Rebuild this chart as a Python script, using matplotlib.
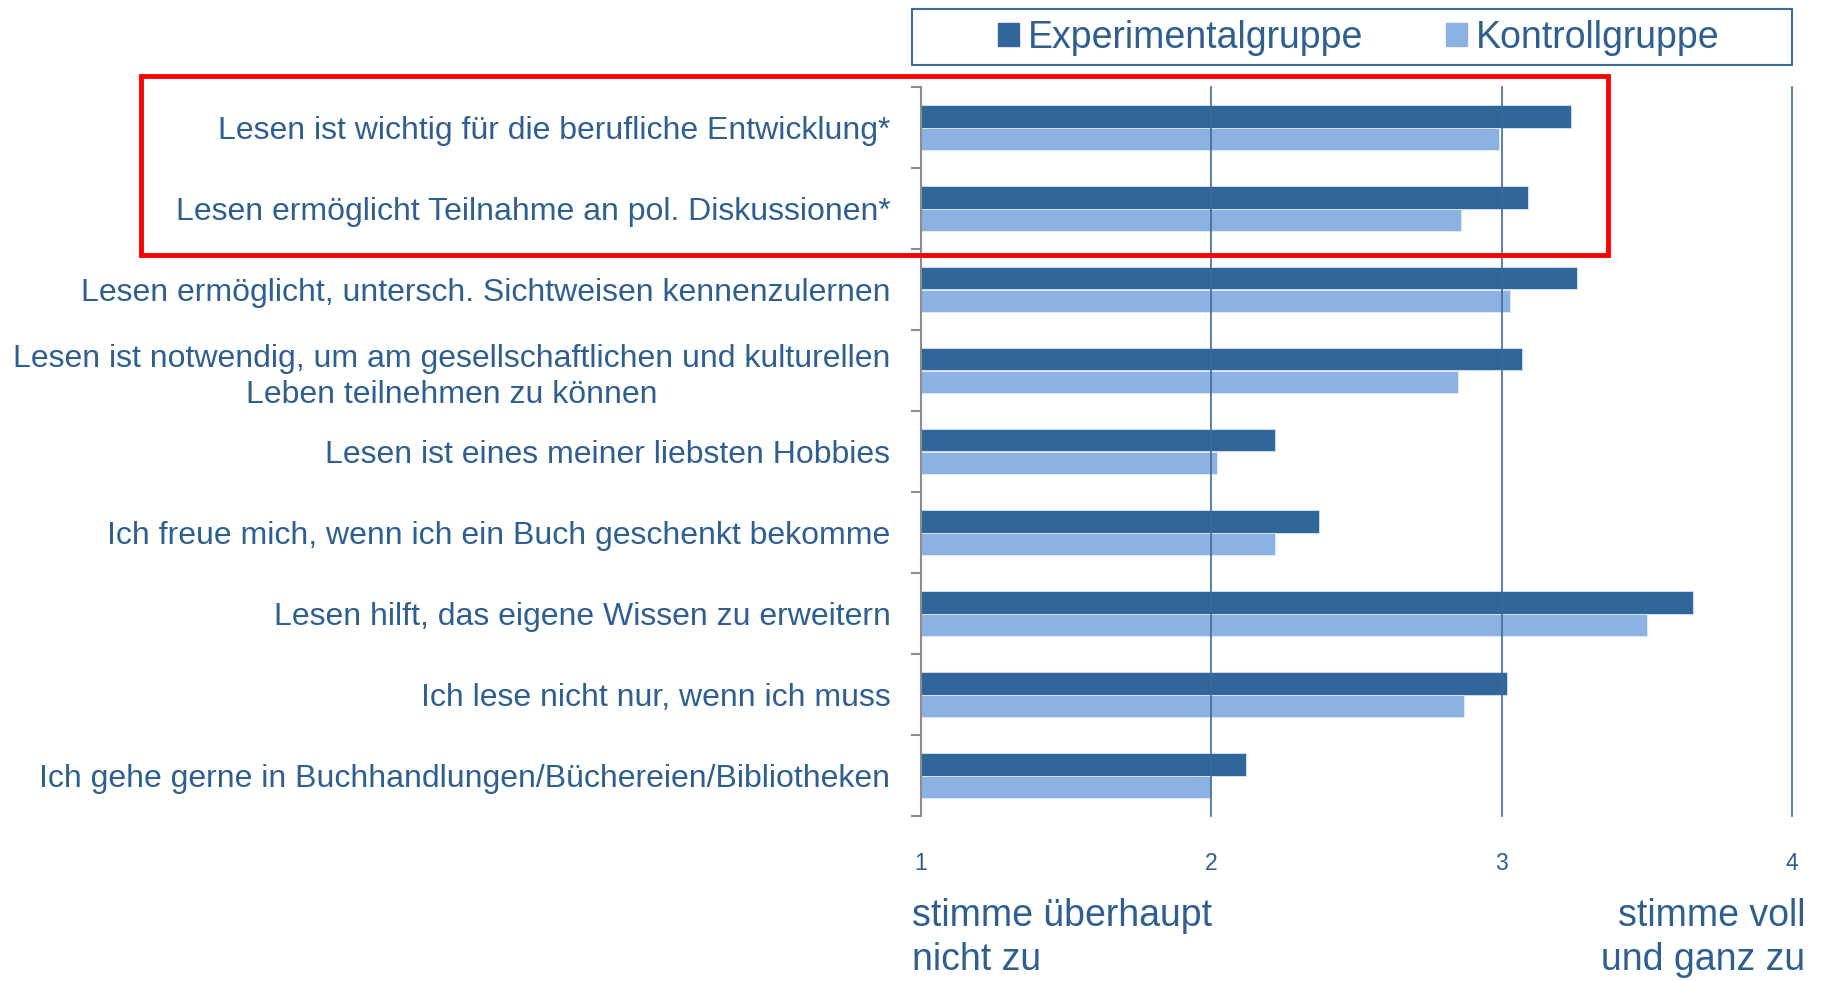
import matplotlib.pyplot as plt
from matplotlib.patches import Rectangle, Patch
import numpy as np

plt.rcParams['font.family'] = ['Liberation Sans', 'DejaVu Sans']

# Daten (Mittelwerte, Skala 1-4)
kategorien = [
    "Lesen ist wichtig für die berufliche Entwicklung*",
    "Lesen ermöglicht Teilnahme an pol. Diskussionen*",
    "Lesen ermöglicht, untersch. Sichtweisen kennenzulernen",
    "Lesen ist notwendig, um am gesellschaftlichen und kulturellen\nLeben teilnehmen zu können",
    "Lesen ist eines meiner liebsten Hobbies",
    "Ich freue mich, wenn ich ein Buch geschenkt bekomme",
    "Lesen hilft, das eigene Wissen zu erweitern",
    "Ich lese nicht nur, wenn ich muss",
    "Ich gehe gerne in Buchhandlungen/Büchereien/Bibliotheken",
]
experimental = [3.24, 3.09, 3.26, 3.07, 2.22, 2.37, 3.66, 3.02, 2.12]
kontroll = [2.99, 2.86, 3.03, 2.85, 2.02, 2.22, 3.50, 2.87, 2.00]
x_ticks = [1, 2, 3, 4]

c_text = '#2E5F90'
c_exp = '#31669A'
c_kon = '#8BB2E3'
c_grid = '#3C6B9C'

W, H = 1821, 981
fig = plt.figure(figsize=(W / 100, H / 100), dpi=100)
ax = fig.add_axes([921 / W, 1 - 816 / H, (1792 - 921) / W, (816 - 87) / H])

y = np.arange(len(kategorien))
h = 0.28
ax.barh(y - h / 2, np.array(experimental) - 1, left=1, height=h, color=c_exp,
        edgecolor='#D8E3EF', linewidth=0.6, zorder=2)
ax.barh(y + h / 2, np.array(kontroll) - 1, left=1, height=h, color=c_kon,
        edgecolor='#E3ECF6', linewidth=0.6, zorder=2)

ax.set_xlim(1, 4)
ax.set_ylim(len(kategorien) - 0.5, -0.5)

# x-Achse
ax.set_xticks(x_ticks)
ax.set_xticklabels([str(t) for t in x_ticks])
ax.tick_params(axis='x', length=0, pad=26, labelsize=16.5, labelcolor=c_text)
ax.xaxis.grid(True, color=c_grid, linewidth=1.2, zorder=3)
ax.set_axisbelow(False)
for gl in ax.get_xgridlines():
    gl.set_clip_on(False)
ax.get_xgridlines()[0].set_visible(False)

# y-Achse: Striche an den Kategoriegrenzen, Beschriftung in der Mitte
ax.set_yticks(np.arange(-0.5, len(kategorien), 1))
ax.set_yticklabels([])
ax.tick_params(axis='y', which='major', length=7, width=1.5, color='#8C8C8C')
ax.set_yticks(y, minor=True)
ax.set_yticklabels(kategorien, minor=True, fontsize=23, color=c_text,
                   multialignment='center', linespacing=1.28)
ax.tick_params(axis='y', which='minor', length=0, pad=22)

for s in ['top', 'right', 'bottom']:
    ax.spines[s].set_visible(False)
ax.spines['left'].set_color('#8C8C8C')
ax.spines['left'].set_linewidth(1.5)

# Legende mit Rahmen
fig.add_artist(Rectangle((912 / W, 1 - 65 / H), 880 / W, 56 / H, transform=fig.transFigure,
                         fill=False, edgecolor=c_grid, linewidth=1.5))
handles = [Patch(color=c_exp, label='Experimentalgruppe'),
           Patch(color=c_kon, label='Kontrollgruppe')]
fig.legend(handles=handles, loc='center', bbox_to_anchor=(1359 / W, 1 - 38 / H),
           ncol=2, frameon=False, fontsize=27, labelcolor=c_text,
           handlelength=0.55, handleheight=0.55, handletextpad=0.25, columnspacing=2.2)

# Markierung
fig.add_artist(Rectangle((141 / W, 1 - 255 / H), (1608 - 141) / W, (255 - 76) / H,
                         transform=fig.transFigure, fill=False, edgecolor='#FF0000',
                         linewidth=3.5))

# Skalenbeschriftung
fig.text(912 / W, 1 - 938 / H, 'stimme überhaupt\nnicht zu', fontsize=27, color=c_text,
         ha='left', va='center', linespacing=1.28)
fig.text(1805 / W, 1 - 938 / H, 'stimme voll\nund ganz zu', fontsize=27, color=c_text,
         ha='right', va='center', multialignment='right', linespacing=1.28)

fig.savefig('out.png', dpi=100)
